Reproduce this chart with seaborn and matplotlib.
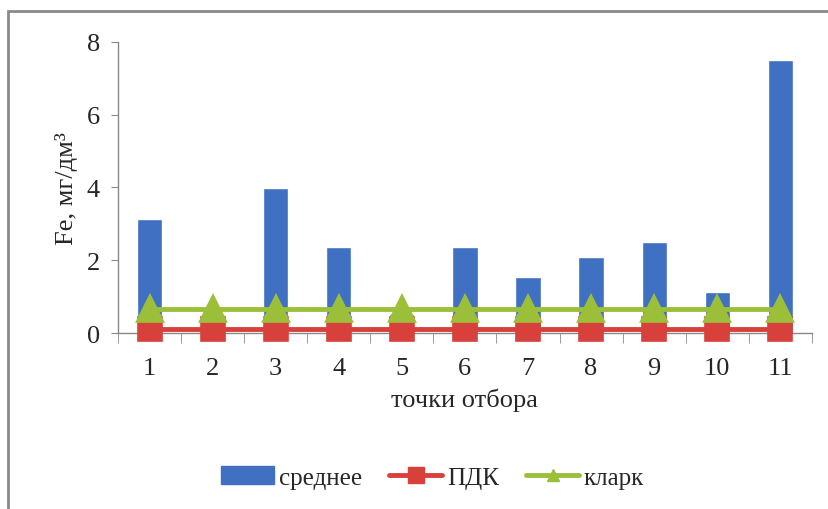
import matplotlib
matplotlib.use("Agg")
import matplotlib.pyplot as plt
import seaborn as sns
import pandas as pd
from matplotlib.patches import Rectangle
from matplotlib.lines import Line2D
from matplotlib.patches import Patch

# Sampling points and iron concentrations, mg/dm³
points = ["1", "2", "3", "4", "5", "6", "7", "8", "9", "10", "11"]
mean_fe = [3.13, 0.0, 3.98, 2.36, 0.52, 2.36, 1.54, 2.09, 2.50, 1.13, 7.50]
pdk = [0.1] * 11
clarke = [0.67] * 11

c_bar = "#3F70C2"
c_pdk = "#D8403B"
c_clarke = "#9CBF3A"

sns.set_style("white")
plt.rcParams["font.family"] = ["Liberation Serif", "DejaVu Serif"]

df = pd.DataFrame({"point": points, "mean": mean_fe, "pdk": pdk, "clarke": clarke})

fig = plt.figure(figsize=(8.29, 5.10), dpi=100)
ax = fig.add_axes([0.1423, 0.345, 0.837, 0.571])

sns.barplot(data=df, x="point", y="mean", color=c_bar, width=0.4,
            saturation=1, ax=ax, zorder=2)
sns.pointplot(data=df, x="point", y="pdk", color=c_pdk, markers="s",
              linestyles="-", markersize=16, linewidth=3.5, ax=ax)
sns.pointplot(data=df, x="point", y="clarke", color=c_clarke, markers="^",
              linestyles="-", markersize=17, linewidth=3.5, ax=ax)
for coll in ax.collections + ax.lines:
    coll.set_clip_on(False)
for ln in ax.lines:
    ln.set_zorder(4)

ax.set_ylim(0, 8)
ax.set_xlim(-0.5, len(points) - 0.5)
ax.set_yticks([0, 2, 4, 6, 8])
ax.set_xlabel("точки отбора", fontsize=19, labelpad=6)
ax.set_ylabel("Fe, мг/дм³", fontsize=19, labelpad=6)

for side in ["top", "right"]:
    ax.spines[side].set_visible(False)
for side in ["left", "bottom"]:
    ax.spines[side].set_color("#888888")
    ax.spines[side].set_linewidth(1)

ax.tick_params(axis="y", which="both", left=True, length=5, color="#888888",
               labelsize=19, pad=8)
ax.tick_params(axis="x", which="major", bottom=False, labelsize=19, pad=14)
ax.set_xticks([i + 0.5 for i in range(-1, len(points))], minor=True)
ax.tick_params(axis="x", which="minor", bottom=True, length=7, color="#888888",
               direction="out")

handles = [
    Patch(facecolor=c_bar, edgecolor=c_bar),
    Line2D([0], [0], color=c_pdk, lw=3.5, marker="s", markersize=11),
    Line2D([0], [0], color=c_clarke, lw=3.5, marker="^", markersize=9),
]
fig.legend(handles, ["среднее", "ПДК", "кларк"], loc="center",
           bbox_to_anchor=(0.522, 0.062), ncol=3, frameon=False, fontsize=18,
           handlelength=2.1, columnspacing=1.1, handletextpad=0.2)

# Frame around the whole chart
fig.patches.append(Rectangle((0.0097, -0.01), 0.99, 0.987, transform=fig.transFigure,
                             fill=False, edgecolor="#8a8a8a", linewidth=2))

fig.savefig("out.png", dpi=100)
